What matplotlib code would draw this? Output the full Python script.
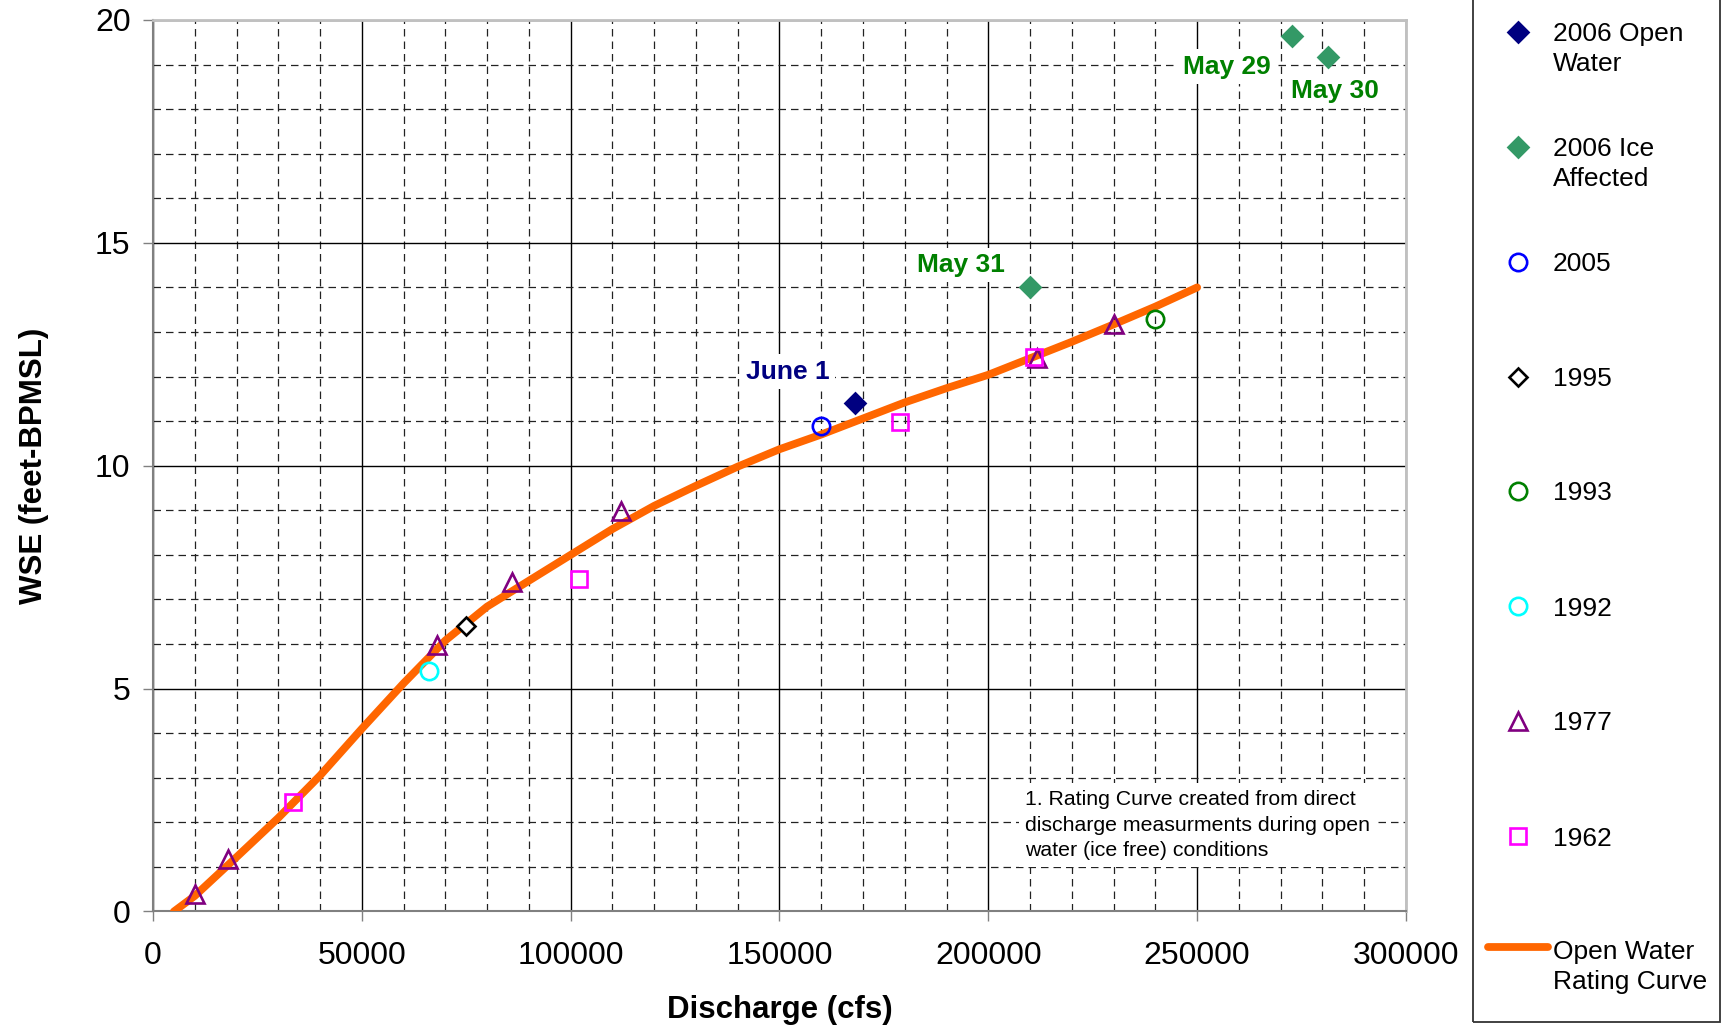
import matplotlib
matplotlib.use("Agg")
import matplotlib.pyplot as plt
from matplotlib.lines import Line2D
from matplotlib.patches import Rectangle
from matplotlib.ticker import MultipleLocator

plt.rcParams["font.family"] = ["Liberation Sans", "DejaVu Sans"]

# open water rating curve
curve_q = [5000, 10000, 20000, 30000, 40000, 50000, 60000, 70000, 80000, 90000,
           100000, 110000, 120000, 130000, 140000, 150000, 160000, 170000, 180000,
           190000, 200000, 210000, 220000, 230000, 240000, 250000]
curve_wse = [0.0, 0.35, 1.22, 2.1, 3.05, 4.1, 5.12, 6.08, 6.84, 7.42,
             8.0, 8.58, 9.1, 9.55, 9.98, 10.37, 10.7, 11.06, 11.42,
             11.74, 12.04, 12.41, 12.78, 13.17, 13.57, 14.0]

# measurements
open2006_q = [168000]
open2006_wse = [11.4]
ice2006_q = [272600, 281300, 210000]
ice2006_wse = [19.64, 19.18, 14.02]
y2005_q = [160000]
y2005_wse = [10.9]
y1995_q = [75000]
y1995_wse = [6.4]
y1993_q = [240000]
y1993_wse = [13.29]
y1992_q = [66000]
y1992_wse = [5.4]
y1977_q = [10000, 18000, 68000, 86000, 112000, 211700, 230000]
y1977_wse = [0.39, 1.17, 5.98, 7.39, 8.98, 12.41, 13.17]
y1962_q = [33400, 102000, 178900, 210900]
y1962_wse = [2.45, 7.45, 10.99, 12.45]

legend_labels = ["2006 Open\nWater", "2006 Ice\nAffected", "2005", "1995", "1993",
                 "1992", "1977", "1962", "Open Water\nRating Curve"]

date_labels = ["May 29", "May 30", "May 31", "June 1"]
date_q = [257100, 282900, 193400, 152000]
date_wse = [18.95, 18.41, 14.5, 12.11]
date_colors = ["#008000", "#008000", "#008000", "#000080"]

note = "1. Rating Curve created from direct\ndischarge measurments during open\nwater (ice free) conditions"

x_ticks = [0, 50000, 100000, 150000, 200000, 250000, 300000]
y_ticks = [0, 5, 10, 15, 20]

# marker styles: (marker, size, face, edge)
styles = [
    ("D", 10.5, "#000080", "#000080"),
    ("D", 10.5, "#339966", "#339966"),
    ("o", 12.5, "none", "#0000FF"),
    ("D", 9.5, "white", "black"),
    ("o", 12.5, "none", "#008000"),
    ("o", 12.5, "none", "#00FFFF"),
    ("^", 12.5, "none", "#800080"),
    ("s", 12, "none", "#FF00FF"),
]
series = [
    (open2006_q, open2006_wse), (ice2006_q, ice2006_wse), (y2005_q, y2005_wse),
    (y1995_q, y1995_wse), (y1993_q, y1993_wse), (y1992_q, y1992_wse),
    (y1977_q, y1977_wse), (y1962_q, y1962_wse),
]
curve_color = "#FF6600"

fig = plt.figure(figsize=(17.27, 10.29), dpi=100)
ax = fig.add_axes([0.0886, 0.1142, 0.7255, 0.8664])

ax.plot(curve_q, curve_wse, color=curve_color, lw=5.6, solid_capstyle="round",
        solid_joinstyle="round", zorder=3)
for (q, w), (m, ms, fc, ec) in zip(series, styles):
    ax.plot(q, w, ls="none", marker=m, ms=ms, mfc=fc, mec=ec, mew=1.9, zorder=4)

for lab, q, w, c in zip(date_labels, date_q, date_wse, date_colors):
    ax.text(q, w, lab, color=c, fontsize=19, fontweight="bold", ha="center",
            va="center", zorder=3,
            bbox=dict(boxstyle="square,pad=0.2", fc="white", ec="none"))

ax.text(208800, 1.94, note, fontsize=15.3, ha="left", va="center", linespacing=1.45,
        zorder=3, bbox=dict(boxstyle="square,pad=0.3", fc="white", ec="none"))

ax.set_xlim(0, 300000)
ax.set_ylim(0, 20)
ax.set_xticks(x_ticks)
ax.set_xticklabels([str(t) for t in x_ticks])
ax.set_yticks(y_ticks)
ax.set_yticklabels([str(t) for t in y_ticks])
ax.xaxis.set_minor_locator(MultipleLocator(10000))
ax.yaxis.set_minor_locator(MultipleLocator(1))
ax.tick_params(which="major", direction="out", length=7.2, width=1, color="#808080",
               labelsize=23, pad=9)
ax.tick_params(axis="x", which="major", pad=14)
ax.tick_params(which="minor", length=0)

ax.grid(which="minor", color="#222222", lw=0.9, linestyle=(0, (6, 4)))
ax.grid(which="major", color="black", lw=1.0, linestyle="-")
ax.set_axisbelow(True)

for side in ("left", "bottom"):
    ax.spines[side].set_color("#808080")
    ax.spines[side].set_linewidth(1.5)
for side in ("top", "right"):
    ax.spines[side].set_color("#c0c0c0")
    ax.spines[side].set_linewidth(2)

ax.set_xlabel("Discharge (cfs)", fontsize=22.5, fontweight="bold")
ax.set_ylabel("WSE (feet-BPMSL)", fontsize=22.5, fontweight="bold")
ax.xaxis.set_label_coords(0.5, -0.094)
ax.yaxis.set_label_coords(-0.083, 0.5)

# legend box on the right, entries laid out like the original
fig.add_artist(Rectangle((0.8529, 0.007), 0.1430, 1.0, transform=fig.transFigure,
                         fill=False, edgecolor="#333333", lw=1.3))
H = 1029.0
entry_px = [32, 146.5, 262, 376.7, 491, 606, 721, 836, 950]
line_step = 29.7
for i, lab in enumerate(legend_labels):
    yy = 1 - entry_px[i] / H
    if i < len(styles):
        m, ms, fc, ec = styles[i]
        fig.add_artist(Line2D([0.879], [yy], transform=fig.transFigure, ls="none",
                              marker=m, ms=ms, mfc=fc, mec=ec, mew=1.9))
    else:
        yl = 1 - (entry_px[i] - 3) / H
        fig.add_artist(Line2D([0.8616, 0.8964], [yl, yl], transform=fig.transFigure,
                              color=curve_color, lw=5.6, solid_capstyle="round"))
    for k, part in enumerate(lab.split("\n")):
        fig.text(0.899, 1 - (entry_px[i] + k * line_step) / H, part, fontsize=19,
                 ha="left", va="center_baseline")

fig.savefig("out.png", dpi=100)
